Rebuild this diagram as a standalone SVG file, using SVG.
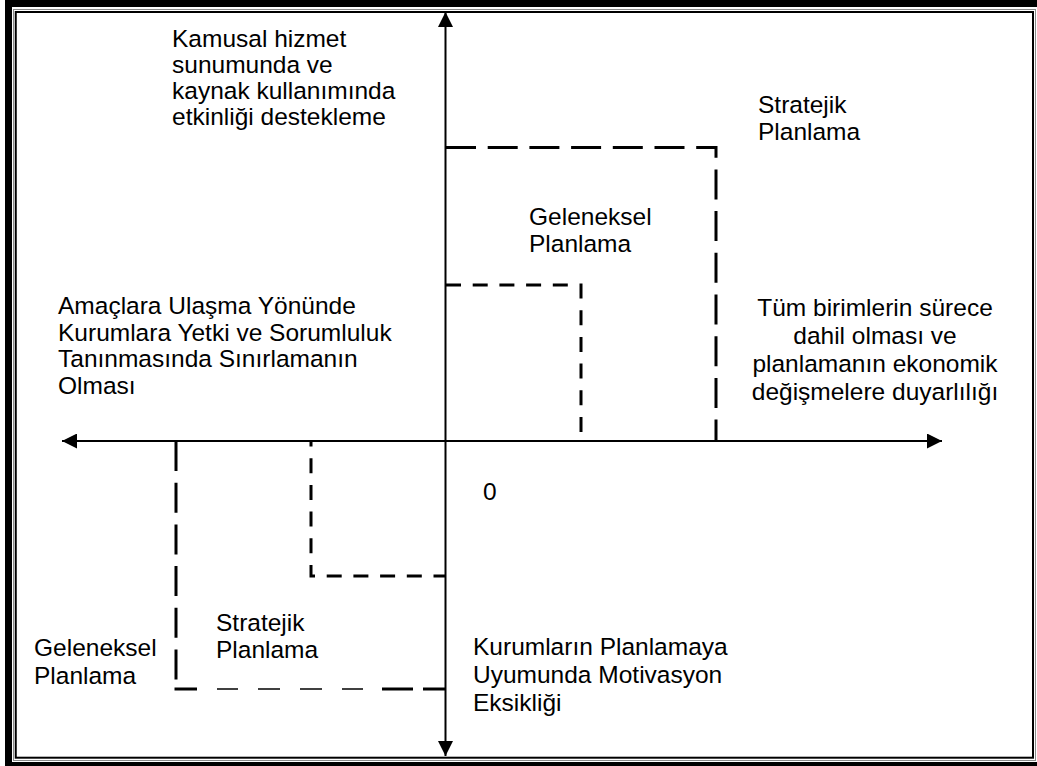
<svg xmlns="http://www.w3.org/2000/svg" width="1037" height="766" viewBox="0 0 1037 766">
  <style>
    .lbl { font-family: "Liberation Sans", Arial, sans-serif; font-size: 24.5px; fill: #000; }
    .axis { stroke: #000; stroke-width: 2; fill: none; }
    .strat { stroke: #000; stroke-width: 3; fill: none; stroke-dasharray: 30 11.7; }
    .trad { stroke: #000; stroke-width: 3; fill: none; stroke-dasharray: 15 11.7; }
    .thin { stroke: #000; stroke-width: 1.5; fill: none; }
    .thick { stroke: #000; stroke-width: 3; fill: none; }
  </style>
  <defs>
    <marker id="arrow" viewBox="0 0 15 15" refX="15" refY="7.5" markerWidth="15" markerHeight="15" markerUnits="userSpaceOnUse" orient="auto">
      <path d="M0,0 L15,7.5 L0,15 Z" fill="#000"/>
    </marker>
  </defs>

  <rect x="0" y="0" width="1037" height="766" fill="#fff"/>

  <!-- page frame: thick outer, grey hairline, thin inner -->
  <g id="frame" fill="none">
    <rect x="8.5" y="3.5" width="1034" height="762" stroke="#000" stroke-width="7"/>
    <rect x="13.5" y="9.5" width="1022" height="751" stroke="#8a8a8a" stroke-width="1"/>
    <rect x="15.75" y="12" width="1017.25" height="745.7" stroke="#000" stroke-width="2"/>
  </g>

  <g id="connectors">
    <!-- axes -->
    <line class="axis" x1="445.5" y1="441" x2="445.5" y2="12" marker-end="url(#arrow)"/>
    <line class="axis" x1="445.5" y1="441" x2="445.5" y2="756" marker-end="url(#arrow)"/>
    <line class="axis" x1="445.5" y1="441" x2="62" y2="441" marker-end="url(#arrow)"/>
    <line class="axis" x1="445.5" y1="441" x2="942" y2="441" marker-end="url(#arrow)"/>

    <!-- upper-right quadrant bounds -->
    <path class="strat" d="M446,147.5 H716 V441"/>
    <path class="trad" d="M446,285 H581 V441"/>

    <!-- lower-left quadrant bounds -->
    <path class="trad" d="M445,576 H311 V441" stroke-dashoffset="3.5"/>
    <path class="strat" d="M176,441 V689"/>
    <g>
      <line class="thick" x1="174.5" y1="689" x2="197" y2="689"/>
      <line class="thin" x1="217" y1="689" x2="238" y2="689"/>
      <line class="thin" x1="258" y1="689" x2="280" y2="689"/>
      <line class="thin" x1="300" y1="689" x2="322" y2="689"/>
      <line class="thin" x1="342" y1="689" x2="363" y2="689"/>
      <line class="thick" x1="382" y1="689" x2="413" y2="689"/>
      <line class="thick" x1="423" y1="689" x2="445" y2="689"/>
    </g>
  </g>

  <g id="label-top">
    <text class="lbl" x="172" y="47">Kamusal hizmet</text>
    <text class="lbl" x="172" y="73">sunumunda ve</text>
    <text class="lbl" x="172" y="99">kaynak kullanımında</text>
    <text class="lbl" x="172" y="125">etkinliği destekleme</text>
  </g>

  <g id="label-strat-top">
    <text class="lbl" x="758" y="113">Stratejik</text>
    <text class="lbl" x="758" y="140">Planlama</text>
  </g>

  <g id="label-trad-top">
    <text class="lbl" x="529" y="225">Geleneksel</text>
    <text class="lbl" x="529" y="252">Planlama</text>
  </g>

  <g id="label-left">
    <text class="lbl" x="58" y="314">Amaçlara Ulaşma Yönünde</text>
    <text class="lbl" x="58" y="341">Kurumlara Yetki ve Sorumluluk</text>
    <text class="lbl" x="58" y="367">Tanınmasında Sınırlamanın</text>
    <text class="lbl" x="58" y="394">Olması</text>
  </g>

  <g id="label-right" text-anchor="middle">
    <text class="lbl" x="875" y="316">Tüm birimlerin sürece</text>
    <text class="lbl" x="875" y="344">dahil olması ve</text>
    <text class="lbl" x="875" y="372">planlamanın ekonomik</text>
    <text class="lbl" x="875" y="400">değişmelere duyarlılığı</text>
  </g>

  <g id="label-origin">
    <text class="lbl" x="483" y="500">0</text>
  </g>

  <g id="label-strat-bottom">
    <text class="lbl" x="216" y="631">Stratejik</text>
    <text class="lbl" x="216" y="658">Planlama</text>
  </g>

  <g id="label-trad-bottom">
    <text class="lbl" x="34" y="656">Geleneksel</text>
    <text class="lbl" x="34" y="684">Planlama</text>
  </g>

  <g id="label-bottom">
    <text class="lbl" x="473" y="655">Kurumların Planlamaya</text>
    <text class="lbl" x="473" y="683">Uyumunda Motivasyon</text>
    <text class="lbl" x="473" y="711">Eksikliği</text>
  </g>
</svg>
